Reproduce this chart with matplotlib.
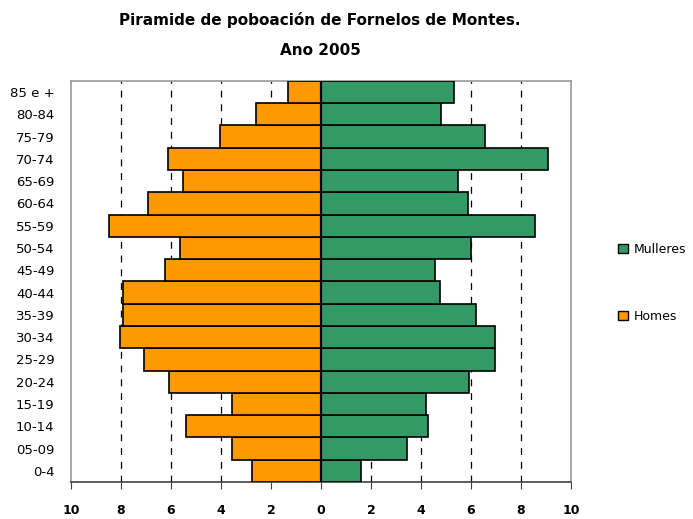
import numpy as np
import matplotlib
matplotlib.use('Agg')
import matplotlib.pyplot as plt
from matplotlib.patches import Patch

# Data (persoas por grupo de idade)
grupos = ["0-4", "05-09", "10-14", "15-19", "20-24", "25-29", "30-34", "35-39",
          "40-44", "45-49", "50-54", "55-59", "60-64", "65-69", "70-74", "75-79",
          "80-84", "85 e +"]
homes = [2.78, 3.56, 5.42, 3.56, 6.08, 7.1, 8.05, 7.94, 7.94, 6.25, 5.65, 8.48,
         6.92, 5.53, 6.14, 4.04, 2.61, 1.34]
mulleres = [1.59, 3.44, 4.27, 4.21, 5.91, 6.97, 6.97, 6.19, 4.75, 4.57, 6.01, 8.55,
            5.89, 5.47, 9.08, 6.55, 4.81, 5.3]
xticks = [-10, -8, -6, -4, -2, 0, 2, 4, 6, 8, 10]

col_h = "#FF9900"
col_m = "#339966"

fig = plt.figure(figsize=(6.93, 5.19), dpi=100)
ax = fig.add_axes([0.1025, 0.0713, 0.7215, 0.773])

y = np.arange(len(grupos))
ax.barh(y, [-v for v in homes], height=1.0, color=col_h, edgecolor="black", linewidth=1.2, zorder=3)
ax.barh(y, mulleres, height=1.0, color=col_m, edgecolor="black", linewidth=1.2, zorder=3)

ax.set_xlim(-10, 10)
ax.set_ylim(-0.5, len(grupos) - 0.5)

# dashed grid lines
for g in [-8, -6, -4, -2, 2, 4, 6, 8]:
    ax.axvline(g, color="black", linestyle=(0, (5.5, 5.5)), linewidth=0.9, zorder=1)
ax.axvline(0, color="black", linewidth=1.6, zorder=4)

ax.set_xticks(xticks)
ax.set_xticklabels([str(abs(t)) for t in xticks], fontweight="bold", fontsize=9)
ax.tick_params(axis="x", direction="out", length=5, color="#404040", pad=11)

ax.set_yticks(y)
ax.set_yticklabels(grupos, fontsize=9.5)
ax.tick_params(axis="y", length=0, pad=12)

for s in ["top", "right", "left"]:
    ax.spines[s].set_color("#999999")
    ax.spines[s].set_linewidth(1.2)
ax.spines["bottom"].set_color("#404040")
ax.spines["bottom"].set_linewidth(1.2)

# small tick marks on the central axis
sec = ax.secondary_yaxis(0.5)
sec.set_yticks(y)
sec.set_yticklabels([])
sec.tick_params(axis="y", direction="out", length=4, width=1, color="black")
sec.spines["left"].set_visible(False)

fig.text(0.462, 0.961, "Piramide de poboación de Fornelos de Montes.",
         ha="center", va="center", fontsize=11, fontweight="bold")
fig.text(0.462, 0.903, "Ano 2005", ha="center", va="center", fontsize=11, fontweight="bold")

handles = [Patch(facecolor=col_m, edgecolor="black", label="Mulleres"),
           Patch(facecolor=col_h, edgecolor="black", label="Homes")]
fig.legend(handles=handles, loc="center left", bbox_to_anchor=(0.875, 0.455),
           frameon=False, fontsize=9, handlelength=0.8, handleheight=0.8,
           labelspacing=4.3, handletextpad=0.5)

fig.savefig("out.png", dpi=100)
